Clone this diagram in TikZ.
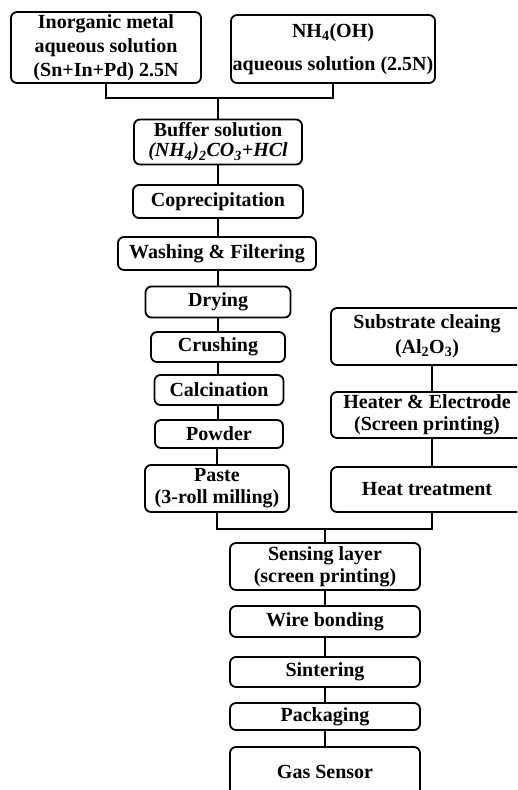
\documentclass[tikz,border=0pt]{standalone}
\usepackage{fontspec}
\setmainfont{Liberation Serif}
\begin{document}
\begin{tikzpicture}[x=1pt,y=-1pt,
  box/.style={draw=black, line width=1.8pt, rounded corners=6pt, inner sep=0pt, align=center,
    font=\fontsize{20}{24}\selectfont\bfseries},
  conn/.style={draw=black, line width=1.8pt}]
\useasboundingbox (0,0) rectangle (517,790);
\clip (0,0) rectangle (517,790);
% top inputs
\node[box, minimum width=190pt, minimum height=71pt, font=\fontsize{20}{24}\selectfont\bfseries] (b1) at (106,47.5)
  {Inorganic metal\\aqueous solution\\(Sn+In+Pd) 2.5N};
\node[box, minimum width=204pt, minimum height=68pt, font=\fontsize{20}{33}\selectfont\bfseries] (b2) at (333,49)
  {NH\textsubscript{4}(OH)\\aqueous solution (2.5N)};
% left column
\node[box, minimum width=168pt, minimum height=45pt, font=\fontsize{20}{20}\selectfont\bfseries] (buf) at (218,142)
  {Buffer solution\\{\itshape (NH\textsubscript{4})\textsubscript{2}CO\textsubscript{3}+HCl}};
\node[box, minimum width=170pt, minimum height=33pt] (cop) at (218,201.5) {Coprecipitation};
\node[box, minimum width=198pt, minimum height=33pt] (wash) at (217,253.5) {Washing \& Filtering};
\node[box, minimum width=145pt, minimum height=31pt] (dry) at (218,302) {Drying};
\node[box, minimum width=134pt, minimum height=30pt] (cru) at (218,347) {Crushing};
\node[box, minimum width=129pt, minimum height=30pt] (cal) at (219,390) {Calcination};
\node[box, minimum width=128pt, minimum height=28pt] (pow) at (219,434) {Powder};
\node[box, minimum width=144pt, minimum height=47pt, font=\fontsize{20}{22}\selectfont\bfseries] (paste) at (217,488.5)
  {Paste\\(3-roll milling)};
% right column
\node[box, minimum width=192pt, minimum height=57pt, font=\fontsize{20}{25}\selectfont\bfseries] (sub) at (427,336.5)
  {Substrate cleaing\\(Al\textsubscript{2}O\textsubscript{3})};
\node[box, minimum width=192pt, minimum height=46pt, font=\fontsize{20}{22}\selectfont\bfseries] (heat) at (427,415)
  {Heater \& Electrode\\(Screen printing)};
\node[box, minimum width=192pt, minimum height=45pt] (ht) at (427,489.5) {Heat treatment};
% bottom column
\node[box, minimum width=190pt, minimum height=47pt, font=\fontsize{20}{22}\selectfont\bfseries] (sens) at (325,566.5)
  {Sensing layer\\(screen printing)};
\node[box, minimum width=190pt, minimum height=31pt] (wire) at (325,621.5) {Wire bonding};
\node[box, minimum width=190pt, minimum height=30pt] (sint) at (325,672) {Sintering};
\node[box, minimum width=190pt, minimum height=27pt] (pack) at (325,716.5) {Packaging};
\node[box, minimum width=190pt, minimum height=50pt] (gas) at (325,772) {Gas Sensor};
% connectors
\coordinate (j1) at (218,98);
\draw[conn] (b1.south) |- (j1) -| (b2.south);
\draw[conn] (j1) -- (buf.north);
\draw[conn] (buf.south) -- (cop.north);
\draw[conn] (cop.south) -- ([xshift=1pt]wash.north);
\draw[conn] ([xshift=1pt]wash.south) -- (dry.north);
\draw[conn] (dry.south) -- (cru.north);
\draw[conn] (cru.south) -- ([xshift=-1pt]cal.north);
\draw[conn] ([xshift=-1pt]cal.south) -- ([xshift=-1pt]pow.north);
\draw[conn] ([xshift=-2pt]pow.south) -- (paste.north);
\draw[conn] ([xshift=5pt]sub.south) -- ([xshift=5pt]heat.north);
\draw[conn] ([xshift=5pt]heat.south) -- ([xshift=5pt]ht.north);
\coordinate (j2) at (325,529);
\draw[conn] (paste.south) |- (j2) -| ([xshift=5pt]ht.south);
\draw[conn] (j2) -- (sens.north);
\draw[conn] (sens.south) -- (wire.north);
\draw[conn] (wire.south) -- (sint.north);
\draw[conn] (sint.south) -- (pack.north);
\draw[conn] (pack.south) -- (gas.north);
\end{tikzpicture}
\end{document}
